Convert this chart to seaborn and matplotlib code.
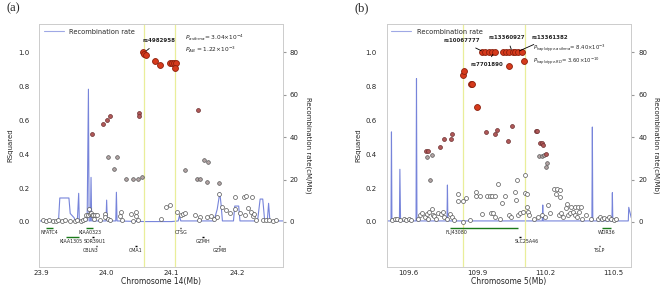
import pandas as pd
import matplotlib
matplotlib.use('Agg')
import matplotlib.pyplot as plt
import seaborn as sns
from matplotlib.lines import Line2D

# ---- panel (a): chromosome 14 ----
a_high_pos = [24.056, 24.058, 24.060, 24.075, 24.082, 24.097, 24.100, 24.103, 24.106, 24.1055]
a_high_r2 = [1.0, 0.99, 0.985, 0.949, 0.924, 0.937, 0.937, 0.937, 0.937, 0.908]
a_mid_pos = [23.977, 23.995, 24.001, 24.005, 24.050, 24.050, 24.141, 24.002, 24.016, 24.012,
             24.030, 24.041, 24.048, 24.054, 24.120, 24.149, 24.156, 24.139, 24.144, 24.154, 24.173]
a_mid_r2 = [0.52, 0.577, 0.60, 0.622, 0.643, 0.625, 0.66, 0.384, 0.384, 0.31,
            0.251, 0.251, 0.255, 0.262, 0.304, 0.366, 0.355, 0.252, 0.252, 0.236, 0.232]
a_low_pos = [23.902, 23.907, 23.912, 23.917, 23.922, 23.925, 23.931, 23.936, 23.944, 23.951,
             23.955, 23.960, 23.964, 23.966, 23.968, 23.971, 23.973, 23.974, 23.976, 23.977,
             23.979, 23.982, 23.985, 23.980, 23.990, 23.997, 23.998, 24.002, 24.005, 24.022,
             24.021, 24.024, 24.037, 24.045, 24.045, 24.048, 24.040, 24.083, 24.091, 24.098,
             24.108, 24.114, 24.117, 24.121, 24.136, 24.143, 24.142, 24.154, 24.160, 24.165,
             24.170, 24.173, 24.178, 24.183, 24.190, 24.197, 24.198, 24.205, 24.211, 24.212,
             24.215, 24.218, 24.222, 24.224, 24.225, 24.227, 24.230, 24.240, 24.245, 24.250,
             24.255, 24.260]
a_low_r2 = [0.01, 0.005, 0.01, 0.008, 0.005, 0.01, 0.006, 0.01, 0.008, 0.005,
            0.01, 0.006, 0.01, 0.02, 0.043, 0.04, 0.075, 0.045, 0.055, 0.04,
            0.042, 0.044, 0.04, 0.02, 0.01, 0.045, 0.03, 0.02, 0.01, 0.06,
            0.035, 0.01, 0.045, 0.06, 0.035, 0.01, 0.005, 0.018, 0.088, 0.1,
            0.06, 0.04, 0.045, 0.05, 0.04, 0.028, 0.01, 0.03, 0.035, 0.015,
            0.03, 0.165, 0.09, 0.07, 0.05, 0.074, 0.149, 0.05, 0.149, 0.04,
            0.155, 0.084, 0.06, 0.148, 0.035, 0.045, 0.01, 0.01, 0.01, 0.01,
            0.005, 0.01]
a_rec_pos = [23.898, 23.926, 23.928, 23.942, 23.944, 23.950, 23.952, 23.955, 23.957, 23.958,
             23.970, 23.972, 23.973, 23.975, 23.976, 23.977, 23.999, 24.000, 24.001, 24.014,
             24.015, 24.016, 24.040, 24.060, 24.100, 24.110, 24.112, 24.114, 24.165, 24.170,
             24.174, 24.176, 24.178, 24.195, 24.197, 24.203, 24.205, 24.232, 24.236, 24.240,
             24.243, 24.247, 24.249, 24.251, 24.271]
a_rec_rate = [0.5, 0.5, 11.3, 11.3, 4, 2, 0.5, 1, 13.5, 0.5,
              0.5, 62.5, 0.5, 0.5, 21, 0.5, 0.5, 10.3, 0.5, 0.5,
              14, 0.5, 0.3, 0.2, 0.2, 0.5, 3, 0.5, 0.5, 6,
              13.8, 8, 0.5, 0.5, 7.5, 7.5, 0.5, 0.5, 10.8, 10.8,
              0.5, 0.5, 8.8, 0.5, 0.5]
a_gene_names = ['NFATC4', 'KIAA1305', 'KIAA0323', 'SDR39U1', 'CBLN3', 'CMA1', 'CTSG', 'GZMH', 'GZMB']
a_gene_start = [23.906, 23.937, 23.969, 23.978, 23.983, 24.044, 24.113, 24.147, 24.173]
a_gene_end = [23.918, 23.958, 23.979, 23.980, 23.985, 24.046, 24.115, 24.149, 24.175]
a_gene_row = [0, 1, 0, 1, 2, 2, 0, 1, 2]
a_gene_long = [True, True, True, False, False, False, False, False, False]
a_gene_label_x = [23.912, 23.946, 23.974, 23.982, 23.975, 24.045, 24.114, 24.148, 24.174]

# ---- panel (b): chromosome 5 ----
b_high_pos = [109.922, 109.937, 109.952, 109.966, 109.979, 110.013, 110.028, 110.042, 110.057,
              110.069, 110.081, 110.096, 110.039, 110.105, 109.837, 109.845, 109.872, 109.878, 109.898]
b_high_r2 = [1.0, 1.0, 1.0, 1.0, 1.0, 1.0, 1.0, 1.0, 1.0,
             1.0, 1.0, 1.0, 0.92, 0.945, 0.863, 0.888, 0.81, 0.81, 0.676]
b_mid_pos = [109.678, 109.685, 109.682, 109.700, 109.693, 109.738, 109.753, 109.787, 109.791,
             109.938, 109.979, 109.990, 110.037, 110.056, 110.160, 110.165, 110.175, 110.184,
             110.190, 110.174, 110.184, 110.196, 110.204, 110.206, 110.203]
b_mid_r2 = [0.418, 0.418, 0.38, 0.394, 0.249, 0.443, 0.49, 0.49, 0.52,
            0.53, 0.52, 0.543, 0.478, 0.565, 0.535, 0.535, 0.466, 0.466,
            0.455, 0.388, 0.388, 0.392, 0.40, 0.345, 0.322]
b_low_pos = [109.525, 109.540, 109.550, 109.560, 109.580, 109.590, 109.600, 109.610, 109.640, 109.650,
             109.660, 109.670, 109.680, 109.685, 109.690, 109.700, 109.705, 109.710, 109.720, 109.730,
             109.740, 109.750, 109.755, 109.770, 109.780, 109.790, 109.800, 109.815, 109.818, 109.837,
             109.853, 109.840, 109.870, 109.896, 109.896, 109.915, 109.942, 109.955, 109.967, 109.979,
             109.994, 109.920, 109.962, 109.970, 109.980, 110.000, 110.010, 110.025, 110.040, 110.050,
             110.067, 110.072, 110.075, 110.080, 110.090, 110.100, 110.111, 110.111, 110.120, 110.120,
             110.125, 110.130, 110.150, 110.170, 110.185, 110.200, 110.210, 110.220, 110.237, 110.252,
             110.266, 110.248, 110.265, 110.260, 110.270, 110.280, 110.295, 110.290, 110.314, 110.329,
             110.344, 110.358, 110.350, 110.300, 110.310, 110.320, 110.330, 110.340, 110.360, 110.380,
             110.400, 110.430, 110.440, 110.450, 110.460, 110.470, 110.480, 110.490, 110.500, 110.510]
b_low_r2 = [0.01, 0.02, 0.015, 0.01, 0.02, 0.01, 0.015, 0.01, 0.02, 0.04,
            0.05, 0.03, 0.045, 0.02, 0.06, 0.075, 0.04, 0.035, 0.02, 0.05,
            0.045, 0.06, 0.03, 0.02, 0.045, 0.03, 0.01, 0.165, 0.125, 0.125,
            0.143, 0.0, 0.01, 0.178, 0.155, 0.155, 0.155, 0.155, 0.155, 0.155,
            0.222, 0.045, 0.05, 0.05, 0.03, 0.02, 0.11, 0.155, 0.04, 0.03,
            0.178, 0.128, 0.247, 0.04, 0.05, 0.06, 0.278, 0.172, 0.167, 0.086,
            0.06, 0.04, 0.02, 0.03, 0.04, 0.03, 0.1, 0.05, 0.192, 0.192,
            0.19, 0.163, 0.149, 0.04, 0.05, 0.03, 0.104, 0.08, 0.09, 0.09,
            0.09, 0.09, 0.06, 0.04, 0.05, 0.06, 0.04, 0.03, 0.02, 0.04,
            0.02, 0.02, 0.03, 0.02, 0.025, 0.02, 0.03, 0.02, 0.01, 0.02]
b_rec_pos = [109.503, 109.522, 109.524, 109.526, 109.559, 109.561, 109.564, 109.632, 109.634, 109.636,
             109.768, 109.770, 109.772, 110.000, 110.187, 110.189, 110.191, 110.405, 110.407, 110.409,
             110.493, 110.495, 110.497, 110.565, 110.567, 110.578]
b_rec_rate = [0.5, 0.5, 42.4, 0.5, 0.5, 24.8, 0.5, 0.5, 67.5, 0.5,
              0.5, 17.4, 0.5, 0.5, 0.5, 8, 0.5, 0.5, 44.7, 0.5,
              0.5, 13.8, 0.5, 0.5, 6.9, 2]
b_gene_names = ['FLJ43080', 'SLC25A46', 'WDR36', 'TSLP']
b_gene_start = [109.780, 110.085, 110.450, 110.438]
b_gene_end = [110.080, 110.095, 110.490, 110.442]
b_gene_row = [0, 1, 0, 2]
b_gene_long = [True, False, True, False]
b_gene_label_x = [109.810, 110.120, 110.470, 110.440]

REC_COLOR = '#5f6fd4'
ROW_Y = [-0.035, -0.088, -0.14]


def snp_frame(high_pos, high_r2, mid_pos, mid_r2, low_pos, low_r2):
    df = pd.concat([
        pd.DataFrame({'pos': high_pos, 'r2': high_r2, 'grp': 'high'}),
        pd.DataFrame({'pos': mid_pos, 'r2': mid_r2, 'grp': 'mid'}),
        pd.DataFrame({'pos': low_pos, 'r2': low_r2, 'grp': 'low'}),
    ], ignore_index=True)
    # weaker mid points look greyer
    df.loc[(df.grp == 'mid') & (df.r2 < 0.4), 'grp'] = 'lowmid'
    return df


def draw_panel(ax, df, rec_pos, rec_rate, genes, xlim, xticks, xlabel, vlines, label_x):
    ax2 = ax.twinx()
    sns.lineplot(x=rec_pos, y=rec_rate, ax=ax2, color=REC_COLOR, lw=0.8,
                 sort=False, estimator=None, alpha=0.85)
    ax2.set_ylim(-21.2, 93.2)
    ax2.set_yticks([0, 20, 40, 60, 80])
    ax2.set_ylabel('Recombination rate(cM/Mb)', rotation=270, fontsize=5, labelpad=9)
    ax2.tick_params(axis='y', labelsize=5, length=2, color='#999999', pad=3)
    ax.set_zorder(ax2.get_zorder() + 1)
    ax.patch.set_visible(False)

    for v in vlines:
        ax.axvline(v, color='#e9ee9a', lw=0.9, zorder=1)

    styles = {
        'low': dict(color='white', edgecolor='#555555', s=8, linewidth=0.5),
        'lowmid': dict(color='#b3a4a4', edgecolor='#555555', s=7, linewidth=0.5),
        'mid': dict(color='#b05858', edgecolor='#6b3030', s=8, linewidth=0.5),
        'high': dict(color='#d63a1c', edgecolor='#8c1f0c', s=18, linewidth=0.6),
    }
    for g in ['low', 'lowmid', 'mid', 'high']:
        sub = df[df.grp == g]
        sns.scatterplot(data=sub, x='pos', y='r2', ax=ax, zorder=3, legend=False, **styles[g])

    names, starts, ends, rows, longs = genes
    for i, name in enumerate(names):
        y = ROW_Y[rows[i]]
        col = '#1a7a1a' if longs[i] else 'black'
        ax.hlines(y, starts[i], ends[i], color=col, lw=1.0, zorder=2)
        ax.text(label_x[i], y - 0.029, name, ha='center', va='center', fontsize=3.4)

    ax.set_xlim(*xlim)
    ax.set_ylim(-0.265, 1.165)
    ax.set_xticks(xticks)
    ax.set_xticklabels([f'{t:.1f}' for t in xticks])
    ax.set_yticks([0.0, 0.2, 0.4, 0.6, 0.8, 1.0])
    ax.set_yticklabels(['0.0', '0.2', '0.4', '0.6', '0.8', '1.0'])
    ax.set_xlabel(xlabel, fontsize=5.5, labelpad=1)
    ax.set_ylabel('RSquared', fontsize=5, labelpad=3)
    ax.tick_params(axis='both', labelsize=5, length=0)
    ax.tick_params(axis='x', pad=2)
    ax.tick_params(axis='y', pad=7)
    for a in (ax, ax2):
        for sp in a.spines.values():
            sp.set_color('#cccccc')
            sp.set_linewidth(0.6)
    ax.legend(handles=[Line2D([], [], color=REC_COLOR, lw=0.8, alpha=0.6)],
              labels=['Recombination rate'], loc='upper left', frameon=False,
              fontsize=4.8, handlelength=3, borderaxespad=0.3)


sns.set_style('white')
plt.rcParams['font.family'] = ['DejaVu Sans']

fig = plt.figure(figsize=(6.61, 2.89), dpi=100)
ax_a = fig.add_axes([0.059, 0.076, 0.369, 0.841])
ax_b = fig.add_axes([0.585, 0.076, 0.370, 0.841])

df_a = snp_frame(a_high_pos, a_high_r2, a_mid_pos, a_mid_r2, a_low_pos, a_low_r2)
df_b = snp_frame(b_high_pos, b_high_r2, b_mid_pos, b_mid_r2, b_low_pos, b_low_r2)

draw_panel(ax_a, df_a, a_rec_pos, a_rec_rate,
           (a_gene_names, a_gene_start, a_gene_end, a_gene_row, a_gene_long),
           (23.896, 24.271), [23.9, 24.0, 24.1, 24.2], 'Chromosome 14(Mb)', [24.058, 24.105],
           a_gene_label_x)
draw_panel(ax_b, df_b, b_rec_pos, b_rec_rate,
           (b_gene_names, b_gene_start, b_gene_end, b_gene_row, b_gene_long),
           (109.503, 110.578), [109.6, 109.9, 110.2, 110.5], 'Chromosome 5(Mb)', [109.837, 110.11],
           b_gene_label_x)

# annotations panel (a)
ann = dict(fontsize=4.0, fontweight='bold', ha='center', va='center')
arrow = dict(arrowstyle='-', color='black', lw=0.6)
ax_a.annotate('rs4982958', xy=(24.058, 0.998), xytext=(24.080, 1.065), arrowprops=arrow, **ann)
ax_a.text(24.121, 1.085, r'$P_{asthma}$= 3.04×10$^{-4}$', fontsize=4.2, va='center')
ax_a.text(24.121, 1.01, r'$P_{AB}$ = 1.22×10$^{-3}$', fontsize=4.2, va='center')

# annotations panel (b)
ax_b.annotate('rs10067777', xy=(109.93, 1.0), xytext=(109.832, 1.065), arrowprops=arrow, **ann)
ax_b.annotate('rs13360927', xy=(110.055, 1.0), xytext=(110.032, 1.085), arrowprops=arrow, **ann)
ax_b.annotate('rs13361382', xy=(110.075, 1.0), xytext=(110.218, 1.085), arrowprops=arrow, **ann)
ax_b.annotate('rs7701890', xy=(109.975, 1.0), xytext=(109.944, 0.924), arrowprops=arrow, **ann)
ax_b.text(110.145, 1.025, r'$P_{haplotype\text{-}asthma}$= 8.40×10$^{-3}$', fontsize=3.8, va='center')
ax_b.text(110.145, 0.947, r'$P_{haplotype\text{-}RD}$= 3.60×10$^{-10}$', fontsize=3.8, va='center')

fig.text(0.010, 0.97, '(a)', fontsize=9, family='Liberation Serif', va='center')
fig.text(0.537, 0.97, '(b)', fontsize=9, family='Liberation Serif', va='center')

fig.savefig('out.png', dpi=100)
